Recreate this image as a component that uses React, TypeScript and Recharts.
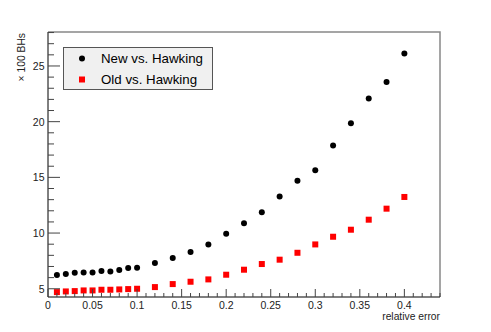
import { ScatterChart, Scatter, XAxis, YAxis, ReferenceArea } from 'recharts';

const relErr = [
  0.01, 0.02, 0.03, 0.04, 0.05, 0.06, 0.07, 0.08, 0.09, 0.1,
  0.12, 0.14, 0.16, 0.18, 0.2, 0.22, 0.24, 0.26, 0.28, 0.3,
  0.32, 0.34, 0.36, 0.38, 0.4,
];
const newVsHawking = [
  6.23, 6.32, 6.44, 6.47, 6.47, 6.59, 6.56, 6.68, 6.86, 6.89,
  7.31, 7.76, 8.3, 8.98, 9.94, 10.87, 11.86, 13.29, 14.7, 15.63,
  17.87, 19.85, 22.07, 23.57, 26.11,
];
const oldVsHawking = [
  4.7, 4.76, 4.79, 4.85, 4.85, 4.91, 4.91, 4.94, 4.97, 5.0,
  5.15, 5.42, 5.63, 5.84, 6.26, 6.71, 7.22, 7.61, 8.23, 8.98,
  9.67, 10.3, 11.2, 12.19, 13.24,
];
const xMajor = [0, 0.05, 0.1, 0.15, 0.2, 0.25, 0.3, 0.35, 0.4];
const yMajor = [5, 10, 15, 20, 25];
const X_DOMAIN: [number, number] = [0, 0.44];
const Y_DOMAIN: [number, number] = [4.26, 28.05];

// minor ticks every 0.01 on x, every 1 on y
const xTicks = Array.from({ length: 45 }, (_, i) => i / 100);
const yTicks = Array.from({ length: 24 }, (_, i) => i + 5);

const newData = relErr.map((x, i) => ({ x, y: newVsHawking[i] }));
const oldData = relErr.map((x, i) => ({ x, y: oldVsHawking[i] }));

const FONT = '"Liberation Sans", Arial, sans-serif';

const isMajor = (v: number, majors: number[]) => majors.some((m) => Math.abs(m - v) < 1e-6);

function XTick(props: any) {
  const { x, y, payload } = props;
  const major = isMajor(payload.value, xMajor);
  return (
    <g>
      <line x1={x} x2={x} y1={y} y2={y - (major ? 8 : 4)} stroke="#444" />
      {major && (
        <text x={x} y={y + 8} textAnchor="middle" dominantBaseline="central" fontSize={10.5} fontFamily={FONT} fill="#222">
          {String(Number(payload.value.toFixed(2)))}
        </text>
      )}
    </g>
  );
}

function YTick(props: any) {
  const { x, y, payload } = props;
  const major = isMajor(payload.value, yMajor);
  return (
    <g>
      <line x1={x} x2={x + (major ? 12 : 6)} y1={y} y2={y} stroke="#444" />
      {major && (
        <text x={x - 3.5} y={y} textAnchor="end" dominantBaseline="central" fontSize={10.5} fontFamily={FONT} fill="#222">
          {payload.value}
        </text>
      )}
    </g>
  );
}

const Dot = (props: any) => <circle cx={props.cx} cy={props.cy} r={3} fill="#000" />;
const Square = (props: any) => <rect x={props.cx - 3} y={props.cy - 3} width={6} height={6} fill="#ff0000" />;

function LegendBox() {
  return (
    <div
      style={{
        position: 'absolute',
        left: 63,
        top: 47,
        width: 148,
        height: 41,
        background: '#f0f0f0',
        border: '1px solid #555',
      }}
    >
      <svg width={148} height={41} style={{ position: 'absolute', left: 0, top: 0 }}>
        <circle cx={18} cy={10.5} r={3} fill="#000" />
        <rect x={15} y={28.5} width={6} height={6} fill="#ff0000" />
        <text x={37} y={10.5} dominantBaseline="central" fontSize={13.3} fontFamily={FONT}>New vs. Hawking</text>
        <text x={37} y={31.5} dominantBaseline="central" fontSize={13.3} fontFamily={FONT}>Old vs. Hawking</text>
      </svg>
    </div>
  );
}

export default function App() {
  return (
    <div style={{ position: 'absolute', left: 0, top: 0, width: 491, height: 332, background: '#fff' }}>
      <ScatterChart width={491} height={332} margin={{ top: 32, right: 51, bottom: 0, left: 0 }}>
        {/* top + right frame edges only: dash covers first two sides of the rect path */}
        <ReferenceArea
          x1={X_DOMAIN[0]}
          x2={X_DOMAIN[1]}
          y1={Y_DOMAIN[0]}
          y2={Y_DOMAIN[1]}
          fill="none"
          fillOpacity={0}
          stroke="#888"
          strokeWidth={1.5}
          strokeDasharray="657 657"
          ifOverflow="visible"
        />
        <XAxis
          type="number"
          dataKey="x"
          domain={X_DOMAIN}
          ticks={xTicks}
          interval={0}
          tickSize={0}
          tickMargin={0}
          tickLine={false}
          tick={(p: any) => <XTick {...p} />}
          axisLine={{ stroke: '#000' }}
          height={35}
          allowDataOverflow
          label={() => (
            <text x={440} y={316.5} textAnchor="end" dominantBaseline="central" fontSize={10.3} fontFamily={FONT} fill="#222">
              relative error
            </text>
          )}
        />
        <YAxis
          type="number"
          dataKey="y"
          domain={Y_DOMAIN}
          ticks={yTicks}
          interval={0}
          tickSize={0}
          tickMargin={0}
          tickLine={false}
          tick={(p: any) => <YTick {...p} />}
          axisLine={{ stroke: '#000' }}
          width={48}
          allowDataOverflow
          label={() => (
            <text
              x={21.5}
              y={33}
              transform="rotate(-90 21.5 33)"
              textAnchor="end"
              dominantBaseline="central"
              fontSize={10.3}
              fontFamily={FONT}
              fill="#222"
            >
              × 100 BHs
            </text>
          )}
        />
        <Scatter name="New vs. Hawking" data={newData} shape={Dot} isAnimationActive={false} />
        <Scatter name="Old vs. Hawking" data={oldData} shape={Square} isAnimationActive={false} />
      </ScatterChart>
      <LegendBox />
    </div>
  );
}
